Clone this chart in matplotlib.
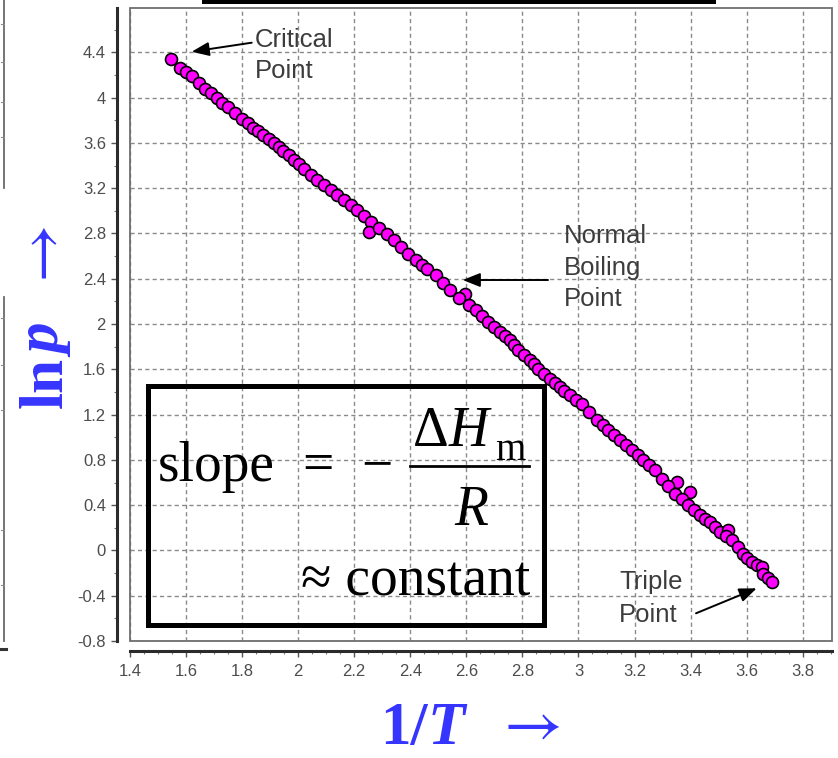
import matplotlib
matplotlib.use("Agg")
import matplotlib.pyplot as plt
from matplotlib.transforms import Affine2D
from matplotlib.patches import Rectangle, FancyArrowPatch
from matplotlib.lines import Line2D
from matplotlib.ticker import FixedLocator, MultipleLocator

plt.rcParams["mathtext.fontset"] = "stix"

# ---- data: ln p against 1/T (1/T in 1/(1000 K)) ----
inv_T = [1.545, 1.578, 1.600, 1.620, 1.645, 1.668, 1.690, 1.710, 1.730, 1.751,
         1.775, 1.799, 1.820, 1.840, 1.858, 1.876, 1.895, 1.912, 1.930, 1.947,
         1.966, 1.985, 2.003, 2.021, 2.045, 2.068, 2.092, 2.116, 2.140, 2.163,
         2.187, 2.211, 2.235, 2.259, 2.253, 2.290, 2.318, 2.342, 2.366, 2.392,
         2.419, 2.440, 2.461, 2.491, 2.518, 2.541, 2.595, 2.575, 2.610, 2.636,
         2.657, 2.677, 2.698, 2.719, 2.737, 2.754, 2.770, 2.784, 2.805, 2.826,
         2.842, 2.856, 2.877, 2.898, 2.916, 2.934, 2.950, 2.969, 2.990, 3.011,
         3.038, 3.065, 3.086, 3.106, 3.127, 3.148, 3.170, 3.190, 3.211, 3.231,
         3.252, 3.273, 3.297, 3.350, 3.320, 3.344, 3.398, 3.370, 3.392, 3.413,
         3.434, 3.452, 3.469, 3.487, 3.505, 3.534, 3.527, 3.547, 3.568, 3.588,
         3.603, 3.618, 3.636, 3.654, 3.659, 3.675, 3.689]
ln_p = [4.344, 4.265, 4.225, 4.188, 4.130, 4.079, 4.040, 4.000, 3.955, 3.917,
        3.865, 3.814, 3.775, 3.735, 3.705, 3.673, 3.635, 3.599, 3.565, 3.528,
        3.490, 3.452, 3.410, 3.373, 3.320, 3.269, 3.225, 3.181, 3.137, 3.093,
        3.048, 3.004, 2.950, 2.901, 2.813, 2.850, 2.798, 2.740, 2.680, 2.622,
        2.563, 2.525, 2.489, 2.430, 2.360, 2.298, 2.268, 2.232, 2.165, 2.121,
        2.070, 2.017, 1.972, 1.929, 1.893, 1.856, 1.815, 1.774, 1.727, 1.679,
        1.643, 1.606, 1.562, 1.518, 1.480, 1.443, 1.405, 1.370, 1.333, 1.297,
        1.225, 1.149, 1.105, 1.061, 1.016, 0.972, 0.928, 0.884, 0.840, 0.796,
        0.752, 0.707, 0.634, 0.604, 0.568, 0.502, 0.516, 0.450, 0.398, 0.354,
        0.310, 0.280, 0.251, 0.206, 0.162, 0.177, 0.125, 0.089, 0.030, -0.028,
        -0.065, -0.103, -0.125, -0.147, -0.205, -0.240, -0.279]

x_ticks = [1.4, 1.6, 1.8, 2.0, 2.2, 2.4, 2.6, 2.8, 3.0, 3.2, 3.4, 3.6, 3.8]
x_tick_labels = ["1.4", "1.6", "1.8", "2", "2.2", "2.4", "2.6", "2.8", "3",
                 "3.2", "3.4", "3.6", "3.8"]
y_ticks = [-0.8, -0.4, 0.0, 0.4, 0.8, 1.2, 1.6, 2.0, 2.4, 2.8, 3.2, 3.6, 4.0, 4.4]
y_tick_labels = ["-0.8", "-0.4", "0", "0.4", "0.8", "1.2", "1.6", "2", "2.4",
                 "2.8", "3.2", "3.6", "4", "4.4"]

SERIF = ["Liberation Serif", "DejaVu Serif"]
SANS = ["Liberation Sans", "DejaVu Sans"]
BLUE = "#3535ff"
NOTE = "#3c3c3c"

W, H = 838, 758
fig = plt.figure(figsize=(W / 100, H / 100), dpi=100)
# pixel coordinates measured from the top-left corner
px = Affine2D().scale(1, -1).translate(0, H)

ax = fig.add_axes([130 / W, (H - 641) / H, 701.5 / W, (641 - 8.3) / H])
ax.set_xlim(1.4, 3.9027)
ax.set_ylim(-0.8, 4.789)

for side in ("top", "right"):
    ax.spines[side].set_visible(False)
ax.spines["left"].set_position(("outward", 9.4))
ax.spines["bottom"].set_position(("outward", 7.2))
for side in ("left", "bottom"):
    ax.spines[side].set_color("#2b2b2b")
    ax.spines[side].set_linewidth(2.2)

# inner plot frame
ax.add_patch(Rectangle((0, 0), 1, 1, transform=ax.transAxes, fill=False,
                       ec="#6e6e6e", lw=1.3, clip_on=False, zorder=4))

ax.xaxis.set_major_locator(FixedLocator(x_ticks))
ax.set_xticklabels(x_tick_labels)
ax.yaxis.set_major_locator(FixedLocator(y_ticks))
ax.set_yticklabels(y_tick_labels)
ax.xaxis.set_minor_locator(MultipleLocator(0.05))
ax.yaxis.set_minor_locator(MultipleLocator(0.2))
ax.tick_params(which="major", length=4, width=1, color="#555555",
               labelsize=12, labelcolor="#4d4d4d")
ax.tick_params(axis="y", which="major", pad=3.9)
ax.tick_params(axis="x", which="major", pad=5.5)
ax.tick_params(which="minor", length=2.2, width=0.8, color="#777777")
for lab in ax.get_xticklabels() + ax.get_yticklabels():
    lab.set_family(SANS)

ax.grid(True, which="major", color="#8a8a8a", lw=1.0,
        linestyle=(0, (3, 2.3)), zorder=0)
ax.set_axisbelow(True)

ax.plot(inv_T, ln_p, "o", mfc="#ff00ff", mec="black", mew=1.2, ms=8.6,
        zorder=3, clip_on=False)

# ---- annotations ----
def note(lines, x, y0, step):
    for i, s in enumerate(lines):
        fig.text(x, y0 + i * step, s, transform=px, ha="left", va="baseline",
                 fontsize=18.5, family=SANS, color=NOTE)

def arrow(tail, tip):
    fig.add_artist(FancyArrowPatch(tail, tip, transform=px,
                                   arrowstyle="-|>,head_length=0.7,head_width=0.28",
                                   mutation_scale=15, lw=1.4, color="black",
                                   shrinkA=0, shrinkB=0))

note(["Critical", "Point"], 255, 47, 31)
arrow((251.7, 42.7), (191.7, 51.7))
note(["Normal", "Boiling", "Point"], 564, 243, 31.5)
arrow((548, 280), (462.7, 280))
note(["Triple", "Point"], 619, 589, 32.5)
arrow((696, 613.3), (756.7, 588.3))

# ---- slope box ----
fig.add_artist(Rectangle((147.5, 385.8), 544 - 147.5, 625 - 385.8,
                         transform=px, fill=False, ec="black", lw=3.6))
renderer = fig.canvas.get_renderer()

def run(pieces, x, y, rotation=0):
    for s, kw in pieces:
        t = fig.text(x, y, s, transform=px, rotation=rotation,
                     rotation_mode="anchor", ha="left", va="baseline", **kw)
        bb = t.get_window_extent(renderer)
        if rotation == 0:
            x += bb.width
        else:
            y -= bb.height
    return x, y

fig.text(158, 481, "slope", transform=px, ha="left", va="baseline",
         fontsize=40, family=SERIF, color="black")
fig.text(317.5, 481, "=", transform=px, ha="center", va="baseline",
         fontsize=40, family=SERIF, color="black")
fig.text(377, 481, "\u2212", transform=px, ha="center", va="baseline",
         fontsize=40, family=SERIF, color="black")
run([("\u0394", dict(fontsize=40, family=SERIF, color="black")),
     ("H", dict(fontsize=40, family=SERIF, style="italic", color="black"))],
    413, 446)
fig.text(495, 460, "m", transform=px, ha="left", va="baseline",
         fontsize=28, family=SERIF, color="black")
fig.add_artist(Line2D([410, 529], [465.7, 465.7], transform=px,
                      color="black", lw=2.0))
fig.text(471, 525, "R", transform=px, ha="center", va="baseline",
         fontsize=40, family=SERIF, style="italic", color="black")
fig.text(301, 595, "\u2248 constant", transform=px, ha="left", va="baseline",
         fontsize=40, family=SERIF, color="black")

# ---- axis titles ----
XBASE = 744
run([("1/", dict(fontsize=44, family=SERIF, weight="bold", color=BLUE)),
     ("T", dict(fontsize=44, family=SERIF, weight="bold", style="italic",
                color=BLUE))], 380, XBASE)
fig.text(527, XBASE - 2, r"$\rightarrow$", transform=px, ha="center",
         va="baseline", fontsize=46, color=BLUE)

run([("ln", dict(fontsize=44, family=SERIF, weight="bold", color=BLUE)),
     ("p", dict(fontsize=44, family=SERIF, weight="bold", style="italic",
                color=BLUE))], 62, 408, rotation=90)
fig.text(60, 259, r"$\rightarrow$", transform=px, rotation=90,
         rotation_mode="anchor", ha="center", va="baseline", fontsize=46,
         color=BLUE)

# ---- neighbouring panel edges ----
fig.add_artist(Rectangle((202, 0), 514, 4, transform=px, fc="black", ec="none"))
for y0, y1 in ((0, 188), (297, 641)):
    fig.add_artist(Line2D([4, 4], [y0, y1], transform=px, color="#6a6a6a", lw=1.3))
for yt in (24, 62, 102, 137, 318, 365, 410, 530, 585):
    fig.add_artist(Line2D([1, 4], [yt, yt], transform=px, color="#8a8a8a", lw=0.8))
fig.add_artist(Line2D([0, 6], [649, 649], transform=px, color="#333333", lw=2.2))

fig.savefig("out.png", dpi=100)
